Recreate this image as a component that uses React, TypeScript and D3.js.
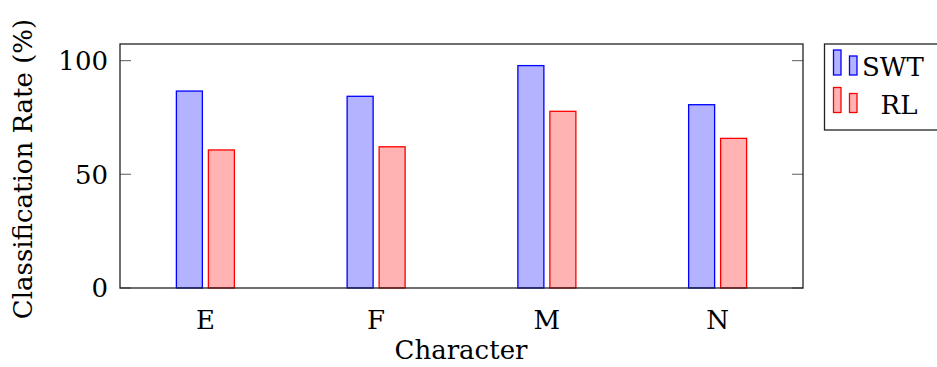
import React from "react";
import * as d3 from "d3";

const categories = ["E", "F", "M", "N"];
const swtValues = [86.6, 84.3, 97.8, 80.6];
const rlValues = [60.7, 62.1, 77.7, 65.8];
const yTicks = [0, 50, 100];
const seriesNames = ["SWT", "RL"];

const W = 937;
const H = 367;
const plot = { left: 120, right: 803, top: 44, bottom: 288 };
const FONT = "'DejaVu Serif', serif";

export default function App() {
  const x = d3
    .scalePoint<string>()
    .domain(categories)
    .range([plot.left, plot.right])
    .padding(0.5);
  const y = d3.scaleLinear().domain([0, 107.3]).range([plot.bottom, plot.top]);
  const barW = 26;
  const off = 16;

  const series = [
    { name: seriesNames[0], values: swtValues, fill: "#b3b3ff", stroke: "#0000ff", dx: -off },
    { name: seriesNames[1], values: rlValues, fill: "#ffb3b3", stroke: "#ff0000", dx: off },
  ];

  return (
    <svg
      width={W}
      height={H}
      style={{ position: "absolute", left: 0, top: 0, background: "#fff" }}
      fontFamily={FONT}
    >
      <rect x={0} y={0} width={W} height={H} fill="#fff" />
      {/* bars */}
      {series.map((s) =>
        s.values.map((v, i) => {
          const cx = (x(categories[i]) as number) + s.dx;
          return (
            <rect
              key={s.name + i}
              x={cx - barW / 2}
              y={y(v)}
              width={barW}
              height={y(0) - y(v)}
              fill={s.fill}
              stroke={s.stroke}
              strokeWidth={1.3}
            />
          );
        })
      )}
      {/* ticks */}
      {yTicks.map((t) => (
        <g key={t}>
          <line x1={plot.left} x2={plot.left + 11} y1={y(t)} y2={y(t)} stroke="#777" strokeWidth={1.2} />
          <line x1={plot.right - 11} x2={plot.right} y1={y(t)} y2={y(t)} stroke="#777" strokeWidth={1.2} />
          <text
            x={plot.left - 12}
            y={y(t)}
            dy="0.36em"
            textAnchor="end"
            fontSize={26}
            fill="#000"
          >
            {t}
          </text>
        </g>
      ))}
      {/* frame */}
      <rect
        x={plot.left}
        y={plot.top}
        width={plot.right - plot.left}
        height={plot.bottom - plot.top}
        fill="none"
        stroke="#222"
        strokeWidth={1.3}
      />
      {/* x labels */}
      {categories.map((c) => (
        <text key={c} x={x(c) as number} y={329} textAnchor="middle" fontSize={26} fill="#000">
          {c}
        </text>
      ))}
      <text x={461} y={359} textAnchor="middle" fontSize={26} fill="#000">
        Character
      </text>
      <text
        transform={`translate(32,169) rotate(-90)`}
        textAnchor="middle"
        fontSize={26}
        fill="#000"
      >
        Classification Rate (%)
      </text>
      {/* legend */}
      <rect x={824.5} y={44} width={120} height={86} fill="#fff" stroke="#222" strokeWidth={1.3} />
      {series.map((s, i) => {
        const base = i === 0 ? 75 : 112.5;
        return (
          <g key={s.name}>
            <rect x={833.5} y={base - 25} width={7.5} height={25} fill={s.fill} stroke={s.stroke} strokeWidth={1.3} />
            <rect x={849.5} y={base - 19} width={7.5} height={19} fill={s.fill} stroke={s.stroke} strokeWidth={1.3} />
            <text
              x={i === 0 ? 862 : 899}
              y={base + 1}
              textAnchor={i === 0 ? "start" : "middle"}
              fontSize={26}
              fill="#000"
            >
              {s.name}
            </text>
          </g>
        );
      })}
    </svg>
  );
}
